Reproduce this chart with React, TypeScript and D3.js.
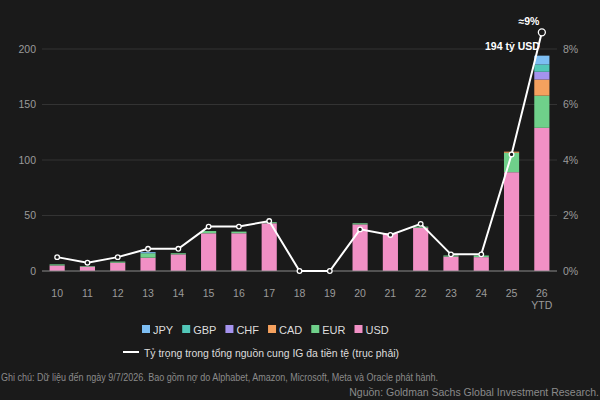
import React, { useEffect, useRef } from 'react';
import * as d3 from 'd3';

// years (x categories)
const years = ['10', '11', '12', '13', '14', '15', '16', '17', '18', '19', '20', '21', '22', '23', '24', '25', '26'];
// issuance by currency, bn USD
const usd = [5, 4, 7.5, 12, 15, 34, 34, 43, 0, 0, 42, 34, 39, 13, 12.5, 89, 129];
const eur = [1, 0.5, 1, 4, 1, 2, 1.5, 1, 0, 0, 1, 0, 1, 1, 1.5, 17.5, 29];
const cad = [0, 0, 0, 0, 0, 0, 0, 0, 0, 0, 0, 0, 0, 0, 0, 1, 14.5];
const chf = [0, 0, 0, 0, 0, 0, 0, 0, 0, 0, 0, 0, 0, 0, 0, 0, 7];
const gbp = [0, 0, 0, 0, 0, 0, 0, 0, 0, 0, 0, 0, 0, 0, 0, 0, 6.5];
const jpy = [0, 0, 0, 1, 0, 0, 0, 0, 0, 0, 0, 0, 0, 0, 0, 0, 8];
// share of multi-currency IG supply, % (right axis)
const share = [0.5, 0.3, 0.5, 0.8, 0.8, 1.6, 1.6, 1.8, 0, 0, 1.5, 1.3, 1.7, 0.6, 0.6, 4.2, 8.6];

const leftTicks = [0, 50, 100, 150, 200];
const rightTicks = [0, 2, 4, 6, 8];

const keys = ['USD', 'EUR', 'CAD', 'CHF', 'GBP', 'JPY'];
const legendKeys = ['JPY', 'GBP', 'CHF', 'CAD', 'EUR', 'USD'];
const colors: Record<string, string> = {
  USD: '#f190c5',
  EUR: '#6fd08a',
  CAD: '#f5a15e',
  CHF: '#a593ee',
  GBP: '#52c7b8',
  JPY: '#7dbef3',
};

export default function App() {
  const ref = useRef<SVGSVGElement>(null);

  useEffect(() => {
    const width = 600;
    const height = 400;
    const svg = d3.select(ref.current);
    svg.selectAll('*').remove();

    svg.append('rect').attr('width', width).attr('height', height).attr('fill', '#1a1a1a');

    const x = d3.scaleBand().domain(years).range([42, 557]).paddingInner(0.5).paddingOuter(0.25);
    const y = d3.scaleLinear().domain([0, 200]).range([271, 49]);
    const y2 = d3.scaleLinear().domain([0, 8]).range([271, 49]);

    // gridlines
    svg.append('g')
      .selectAll('line')
      .data(leftTicks.slice(1))
      .enter()
      .append('line')
      .attr('x1', 42)
      .attr('x2', 557)
      .attr('y1', d => y(d))
      .attr('y2', d => y(d))
      .attr('stroke', '#333')
      .attr('stroke-width', 1);

    // left axis labels
    svg.append('g')
      .selectAll('text')
      .data(leftTicks)
      .enter()
      .append('text')
      .attr('x', 36)
      .attr('y', d => y(d))
      .attr('dy', '0.35em')
      .attr('text-anchor', 'end')
      .attr('fill', '#9a9a9a')
      .style('font-size', '10.5px')
      .text(d => d);

    // right axis labels
    svg.append('g')
      .selectAll('text')
      .data(rightTicks)
      .enter()
      .append('text')
      .attr('x', 563)
      .attr('y', d => y2(d))
      .attr('dy', '0.35em')
      .attr('fill', '#9a9a9a')
      .style('font-size', '10.5px')
      .text(d => d + '%');

    // stacked bars
    const table = years.map((yr, i) => ({
      year: yr,
      USD: usd[i], EUR: eur[i], CAD: cad[i], CHF: chf[i], GBP: gbp[i], JPY: jpy[i],
    }));
    const stack = d3.stack<any>().keys(keys)(table);
    svg.append('g')
      .selectAll('g')
      .data(stack)
      .enter()
      .append('g')
      .attr('fill', d => colors[d.key])
      .selectAll('rect')
      .data(d => d)
      .enter()
      .append('rect')
      .attr('x', d => x(d.data.year)!)
      .attr('width', x.bandwidth())
      .attr('y', d => y(d[1]))
      .attr('height', d => y(d[0]) - y(d[1]));

    // baseline
    svg.append('line')
      .attr('x1', 42).attr('x2', 557)
      .attr('y1', y(0)).attr('y2', y(0))
      .attr('stroke', '#8a8a8a')
      .attr('stroke-width', 1);

    // x labels
    svg.append('g')
      .selectAll('text')
      .data(years)
      .enter()
      .append('text')
      .attr('x', d => x(d)! + x.bandwidth() / 2)
      .attr('y', 297)
      .attr('text-anchor', 'middle')
      .attr('fill', '#9a9a9a')
      .style('font-size', '10.5px')
      .text(d => d);
    svg.append('text')
      .attr('x', x('26')! + x.bandwidth() / 2)
      .attr('y', 309)
      .attr('text-anchor', 'middle')
      .attr('fill', '#9a9a9a')
      .style('font-size', '10.5px')
      .text('YTD');

    // share line
    const cx = (i: number) => x(years[i])! + x.bandwidth() / 2;
    const line = d3.line<number>().x((d, i) => cx(i)).y(d => y2(d));
    svg.append('path')
      .datum(share)
      .attr('d', line)
      .attr('fill', 'none')
      .attr('stroke', '#fff')
      .attr('stroke-width', 2);
    svg.append('g')
      .selectAll('circle')
      .data(share)
      .enter()
      .append('circle')
      .attr('cx', (d, i) => cx(i))
      .attr('cy', d => y2(d))
      .attr('r', (d, i) => (i === share.length - 1 ? 3.5 : 2.3))
      .attr('fill', '#1a1a1a')
      .attr('stroke', '#fff')
      .attr('stroke-width', 1.3);

    // annotations
    svg.append('text')
      .attr('x', cx(16) - 13)
      .attr('y', 25)
      .attr('text-anchor', 'middle')
      .attr('fill', '#fff')
      .style('font-size', '10.5px')
      .style('font-weight', 'bold')
      .text('≈9%');
    svg.append('text')
      .attr('x', cx(16) - 2)
      .attr('y', 50)
      .attr('text-anchor', 'end')
      .attr('fill', '#fff')
      .style('font-size', '10.5px')
      .style('font-weight', 'bold')
      .text('194 tỷ USD');

    // legend row 1
    const lg = svg.append('g');
    let lx = 142;
    legendKeys.forEach(k => {
      lg.append('rect').attr('x', lx).attr('y', 325).attr('width', 8).attr('height', 8).attr('fill', colors[k]);
      const t = lg.append('text')
        .attr('x', lx + 11)
        .attr('y', 333.5)
        .attr('fill', '#ddd')
        .style('font-size', '11px')
        .text(k);
      const w = (t.node() as SVGTextElement).getComputedTextLength();
      lx += 11 + w + 9;
    });

    // legend row 2
    svg.append('line')
      .attr('x1', 123).attr('x2', 139)
      .attr('y1', 352).attr('y2', 352)
      .attr('stroke', '#fff').attr('stroke-width', 2);
    svg.append('text')
      .attr('x', 144)
      .attr('y', 356.5)
      .attr('fill', '#ddd')
      .style('font-size', '11.5px')
      .attr('textLength', 255)
      .attr('lengthAdjust', 'spacingAndGlyphs')
      .text('Tỷ trọng trong tổng nguồn cung IG đa tiền tệ (trục phải)');

    // footnotes
    svg.append('text')
      .attr('x', 1)
      .attr('y', 381)
      .attr('fill', '#8a8a8a')
      .style('font-size', '10px')
      .attr('textLength', 437)
      .attr('lengthAdjust', 'spacingAndGlyphs')
      .text('Ghi chú: Dữ liệu đến ngày 9/7/2026. Bao gồm nợ do Alphabet, Amazon, Microsoft, Meta và Oracle phát hành.');
    svg.append('text')
      .attr('x', 599)
      .attr('y', 396)
      .attr('text-anchor', 'end')
      .attr('fill', '#8a8a8a')
      .style('font-size', '10.5px')
      .text('Nguồn: Goldman Sachs Global Investment Research.');
  }, []);

  return (
    <svg
      ref={ref}
      width={600}
      height={400}
      style={{ position: 'fixed', left: 0, top: 0, fontFamily: '"Liberation Sans", Arial, sans-serif' }}
    />
  );
}
